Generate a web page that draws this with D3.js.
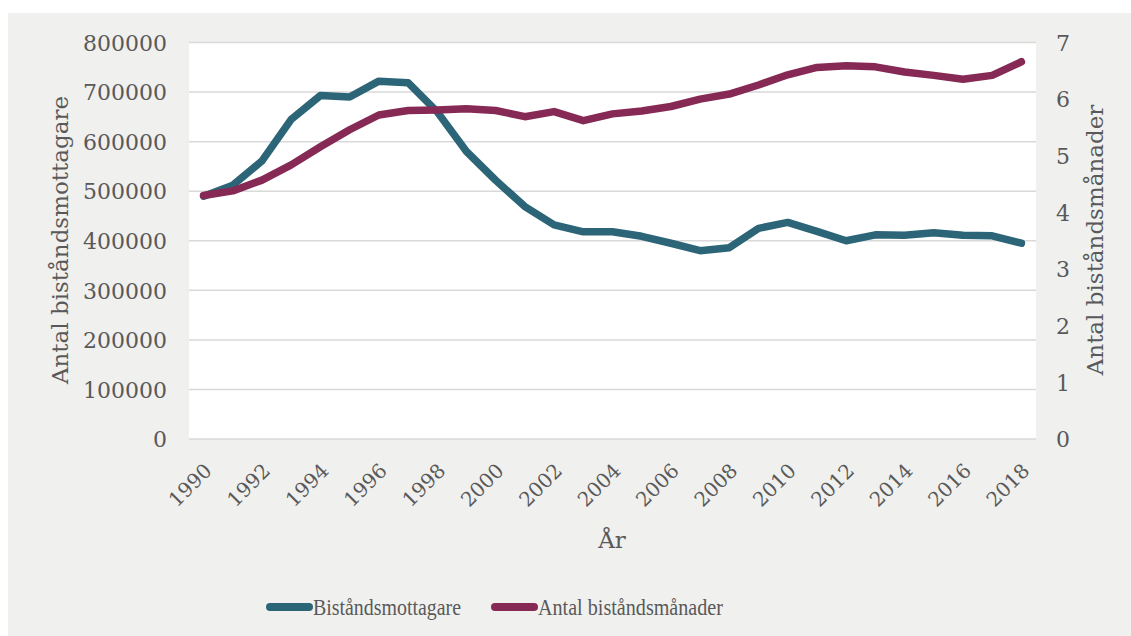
<!DOCTYPE html>
<html>
<head>
<meta charset="utf-8">
<script src="https://cdn.jsdelivr.net/npm/d3@7"></script>
<style>
  body { margin: 0; background: #fff; }
  text { fill: #595959; }
</style>
</head>
<body>
<div id="chart"></div>
<script>
// data
var years = d3.range(1990, 2019);
var mottagare = [490000, 512000, 561000, 645000, 693000, 690000, 722000, 719000, 660000, 580000,
                 522000, 469000, 432000, 418000, 418000, 409000, 395000, 380000, 386000, 425000,
                 437000, 419000, 400000, 412000, 411000, 416000, 411000, 410000, 395000];
var manader = [4.30, 4.38, 4.57, 4.84, 5.16, 5.46, 5.72, 5.80, 5.81, 5.83,
               5.80, 5.69, 5.78, 5.62, 5.74, 5.79, 5.87, 6.00, 6.09, 6.25,
               6.43, 6.56, 6.59, 6.57, 6.48, 6.42, 6.35, 6.42, 6.66];
var leftTicks = d3.range(0, 800001, 100000);
var rightTicks = d3.range(0, 8);
var xTicks = d3.range(1990, 2019, 2);
var seriesNames = ["Biståndsmottagare", "Antal biståndsmånader"];
var colors = ["#2c6577", "#862955"];

var W = 1131, H = 636;
var plot = {left: 189, right: 1036, top: 42.5, bottom: 439};
var serif = "'DejaVu Serif', Georgia, serif";

var svg = d3.select("#chart").append("svg")
    .attr("width", W)
    .attr("height", H)
    .style("font-family", serif);

// grey frame
svg.append("rect")
    .attr("x", 8).attr("y", 13)
    .attr("width", W - 8).attr("height", H - 13)
    .attr("fill", "#f0f0ef");

// white plot area
svg.append("rect")
    .attr("x", plot.left).attr("y", plot.top)
    .attr("width", plot.right - plot.left).attr("height", plot.bottom - plot.top)
    .attr("fill", "#fff");

var x = d3.scalePoint().domain(years).range([plot.left, plot.right]).padding(0.5);
var yL = d3.scaleLinear().domain([0, 800000]).range([plot.bottom, plot.top]);
var yR = d3.scaleLinear().domain([0, 7]).range([plot.bottom, plot.top]);

// gridlines
svg.append("g").selectAll("line")
    .data(leftTicks)
    .enter().append("line")
    .attr("x1", plot.left).attr("x2", plot.right)
    .attr("y1", function(d) { return yL(d); })
    .attr("y2", function(d) { return yL(d); })
    .attr("stroke", "#d9d9d9")
    .attr("stroke-width", 1.5);

// left axis
var gL = svg.append("g")
    .attr("transform", "translate(" + (plot.left - 22) + ",0)")
    .call(d3.axisLeft(yL).tickValues(leftTicks).tickSize(0).tickPadding(0).tickFormat(d3.format("d")));
gL.attr("font-family", null).attr("font-size", 22);
gL.select(".domain").remove();
gL.selectAll("text").attr("dy", "0.35em");

// right axis
var gR = svg.append("g")
    .attr("transform", "translate(" + (plot.right + 20) + ",0)")
    .call(d3.axisRight(yR).tickValues(rightTicks).tickSize(0).tickPadding(0).tickFormat(d3.format("d")));
gR.attr("font-family", null).attr("font-size", 22);
gR.select(".domain").remove();
gR.selectAll("text").attr("dy", "0.35em");

// x axis labels rotated
var gX = svg.append("g")
    .attr("transform", "translate(0," + (plot.bottom + 28) + ")")
    .call(d3.axisBottom(x).tickValues(xTicks).tickSize(0).tickPadding(0));
gX.attr("font-family", null).attr("font-size", 20);
gX.select(".domain").remove();
gX.selectAll("text")
    .attr("text-anchor", "end")
    .attr("y", 0)
    .attr("dy", "0.35em")
    .attr("transform", "translate(4,0) rotate(-45)");

// axis titles
svg.append("text")
    .attr("transform", "translate(68,240) rotate(-90)")
    .attr("text-anchor", "middle")
    .attr("font-size", 23)
    .text("Antal biståndsmottagare");

svg.append("text")
    .attr("transform", "translate(1103,240) rotate(-90)")
    .attr("text-anchor", "middle")
    .attr("font-size", 23)
    .text("Antal biståndsmånader");

svg.append("text")
    .attr("x", 612).attr("y", 548)
    .attr("text-anchor", "middle")
    .attr("font-size", 23)
    .text("År");

// lines
var lineL = d3.line()
    .x(function(d, i) { return x(years[i]); })
    .y(function(d) { return yL(d); });
var lineR = d3.line()
    .x(function(d, i) { return x(years[i]); })
    .y(function(d) { return yR(d); });

svg.append("path")
    .datum(mottagare)
    .attr("d", lineL)
    .attr("fill", "none")
    .attr("stroke", colors[0])
    .attr("stroke-width", 7.5)
    .attr("stroke-linejoin", "round")
    .attr("stroke-linecap", "round");

svg.append("path")
    .datum(manader)
    .attr("d", lineR)
    .attr("fill", "none")
    .attr("stroke", colors[1])
    .attr("stroke-width", 7.5)
    .attr("stroke-linejoin", "round")
    .attr("stroke-linecap", "round");

// legend
var legX = [270, 495];
var legW = [148, 185];
var leg = svg.append("g").selectAll("g")
    .data(seriesNames)
    .enter().append("g")
    .attr("transform", function(d, i) { return "translate(" + legX[i] + ",607)"; });

leg.append("line")
    .attr("x1", 0).attr("x2", 39)
    .attr("stroke", function(d, i) { return colors[i]; })
    .attr("stroke-width", 8)
    .attr("stroke-linecap", "round");

leg.append("text")
    .attr("x", 43).attr("y", 8)
    .style("font-family", "'Liberation Serif', serif")
    .attr("font-size", 24)
    .attr("textLength", function(d, i) { return legW[i]; })
    .attr("lengthAdjust", "spacingAndGlyphs")
    .text(function(d) { return d; });
</script>
</body>
</html>
